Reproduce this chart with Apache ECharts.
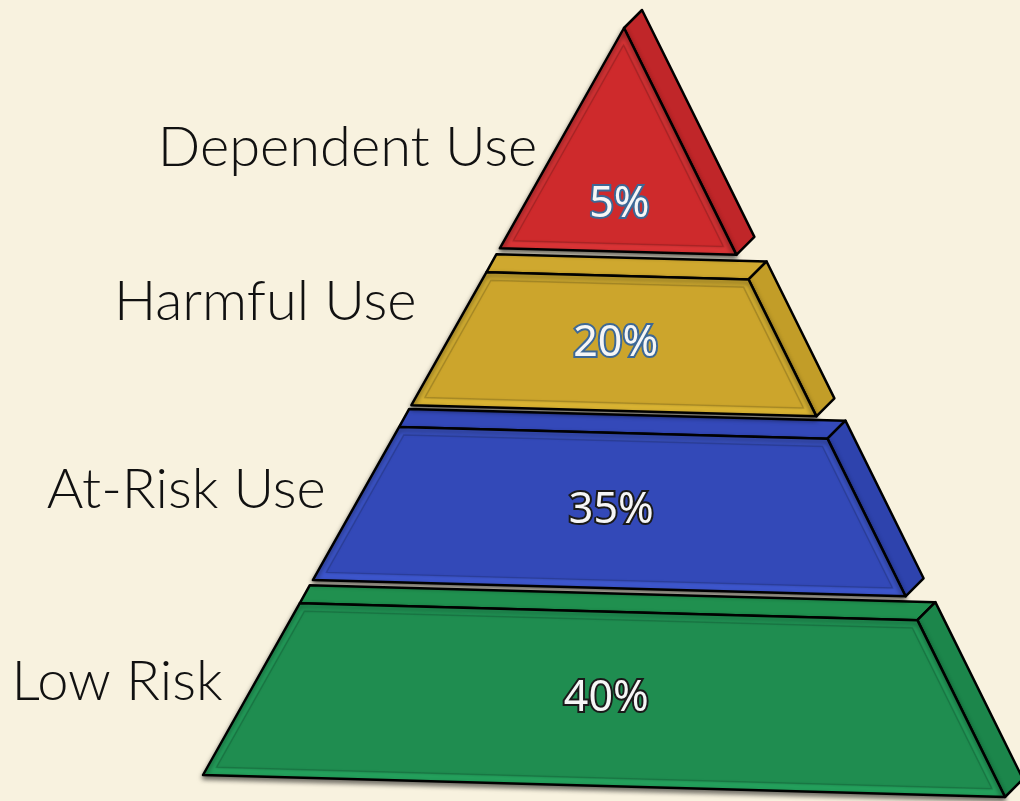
<!DOCTYPE html>
<html><head><meta charset="utf-8">
<script src="https://cdn.jsdelivr.net/npm/echarts/dist/echarts.min.js"></script>
<style>html,body{margin:0;padding:0;background:#F8F2DF;}#chart{width:1020px;height:801px;}</style>
</head><body><div id="chart"></div>
<script>
// ---- data ----
const categories = ['Low Risk', 'At-Risk Use', 'Harmful Use', 'Dependent Use'];
const values = [40, 35, 20, 5];
const valueSuffix = '%';

// ---- layout (coordinates of the hidden 1020x801 value axes) ----
const APEX = [624, 28], BASE_L = [203, 775], BASE_R = [1005, 797];
const BANDS = [[0.770, 1.0], [0.534, 0.739], [0.327, 0.505], [0, 0.295]];
const CAT_LABEL_T = [0.875, 0.618, 0.367, 0.161];
const CAT_LABEL_GAP = [33, 38, 53, 19];
const DEPTH = [18, -18], STRIP_L = [10, -18];

// ---- styles ----
const FRONT = ['#1F8D50', '#3349B8', '#CCA52C', '#CE2A2C'];
const BEVEL = ['#24A05C', '#3D56CC', '#D9B333', '#DA3436'];
const SIDE = ['#1C864B', '#2E43AD', '#C29D28', '#C02629'];
const TOP = ['#20904F', '#3449B9', '#CFA82F', '#CE2A2C'];
const TXT_BORDER = ['#1a1a1a', '#1a1a1a', '#3D6896', '#3D6896'];

function edge(t, side) {
  const B = side < 0 ? BASE_L : BASE_R;
  return [APEX[0] + (B[0] - APEX[0]) * t, APEX[1] + (B[1] - APEX[1]) * t];
}
function add(p, d) { return [p[0] + d[0], p[1] + d[1]]; }
function inset(poly, d) {
  const n = poly.length; let area = 0;
  for (let k = 0; k < n; k++) { const a = poly[k], b = poly[(k + 1) % n]; area += a[0] * b[1] - b[0] * a[1]; }
  const s = area > 0 ? 1 : -1;
  const lines = [];
  for (let k = 0; k < n; k++) {
    const a = poly[k], b = poly[(k + 1) % n];
    const dx = b[0] - a[0], dy = b[1] - a[1], L = Math.hypot(dx, dy);
    const nx = s * -dy / L, ny = s * dx / L;
    lines.push({ p: [a[0] + nx * d, a[1] + ny * d], r: [dx, dy] });
  }
  const out = [];
  for (let k = 0; k < n; k++) {
    const l1 = lines[(k - 1 + n) % n], l2 = lines[k];
    const cr = l1.r[0] * l2.r[1] - l1.r[1] * l2.r[0];
    const qx = l2.p[0] - l1.p[0], qy = l2.p[1] - l1.p[1];
    const u = (qx * l2.r[1] - qy * l2.r[0]) / cr;
    out.push([l1.p[0] + u * l1.r[0], l1.p[1] + u * l1.r[1]]);
  }
  return out;
}

const chart = echarts.init(document.getElementById('chart'));
chart.setOption({
  backgroundColor: '#F8F2DF',
  animation: false,
  grid: { left: 0, right: 0, top: 0, bottom: 0 },
  xAxis: { type: 'value', min: 0, max: 1020, show: false },
  yAxis: { type: 'value', min: 0, max: 801, inverse: true, show: false },
  series: [{
    type: 'custom',
    data: categories.map((c, i) => [i, values[i]]),
    renderItem: function (params, api) {
      const i = api.value(0);
      const v = api.value(1);
      const [t0, t1] = BANDS[i];
      const C = p => api.coord(p);
      const isApex = t0 === 0;
      const FL = edge(t0, -1), FR = edge(t0, 1), BL = edge(t1, -1), BR = edge(t1, 1);
      const front = isApex ? [APEX, BR, BL] : [FL, FR, BR, BL];
      const topR = isApex ? APEX : FR;
      const side = [topR, add(topR, DEPTH), add(BR, DEPTH), BR];
      const children = [];
      const stroke = { stroke: '#000', lineWidth: 2.5, lineJoin: 'round' };
      if (!isApex) {
        children.push({ type: 'polygon', shape: { points: [FL, FR, add(FR, DEPTH), add(FL, STRIP_L)].map(C) },
          style: Object.assign({ fill: TOP[i] }, stroke) });
      }
      children.push({ type: 'polygon', shape: { points: side.map(C) },
        style: Object.assign({ fill: SIDE[i] }, stroke) });
      children.push({ type: 'polygon', shape: { points: front.map(C) },
        style: Object.assign({ fill: BEVEL[i], shadowBlur: 5, shadowOffsetY: 3, shadowColor: 'rgba(0,0,0,0.55)' }, stroke) });
      const fpx = front.map(C);
      children.push({ type: 'polygon', shape: { points: inset(fpx, 8) },
        style: { fill: FRONT[i], stroke: 'rgba(0,0,0,0.14)', lineWidth: 1.5,
          shadowBlur: 3, shadowColor: 'rgba(0,0,0,0.22)' } });
      // value label
      const tl = isApex ? t0 + (t1 - t0) * 0.79 : (t0 + t1) / 2;
      const lp = edge(tl, -1), rp = edge(tl, 1);
      const mid = C([(lp[0] + rp[0]) / 2, (lp[1] + rp[1]) / 2]);
      children.push({ type: 'text', x: mid[0], y: mid[1],
        style: { text: v + valueSuffix, align: 'center', verticalAlign: 'middle',
          font: '400 43px "Noto Sans"', fill: '#F6F6F6', stroke: TXT_BORDER[i], lineWidth: 4, strokeFirst: true,
          shadowBlur: 4, shadowColor: 'rgba(0,0,0,0.5)', shadowOffsetY: 1 } });
      // category label
      const ep = edge(CAT_LABEL_T[i], -1);
      const cp = C([ep[0] - CAT_LABEL_GAP[i], APEX[1] + (BASE_L[1] - APEX[1]) * CAT_LABEL_T[i]]);
      children.push({ type: 'text', x: cp[0], y: cp[1],
        style: { text: categories[i], align: 'right', verticalAlign: 'middle',
          font: '300 56px Lato', fill: '#111' } });
      return { type: 'group', children: children };
    }
  }]
});
</script>
</body></html>
